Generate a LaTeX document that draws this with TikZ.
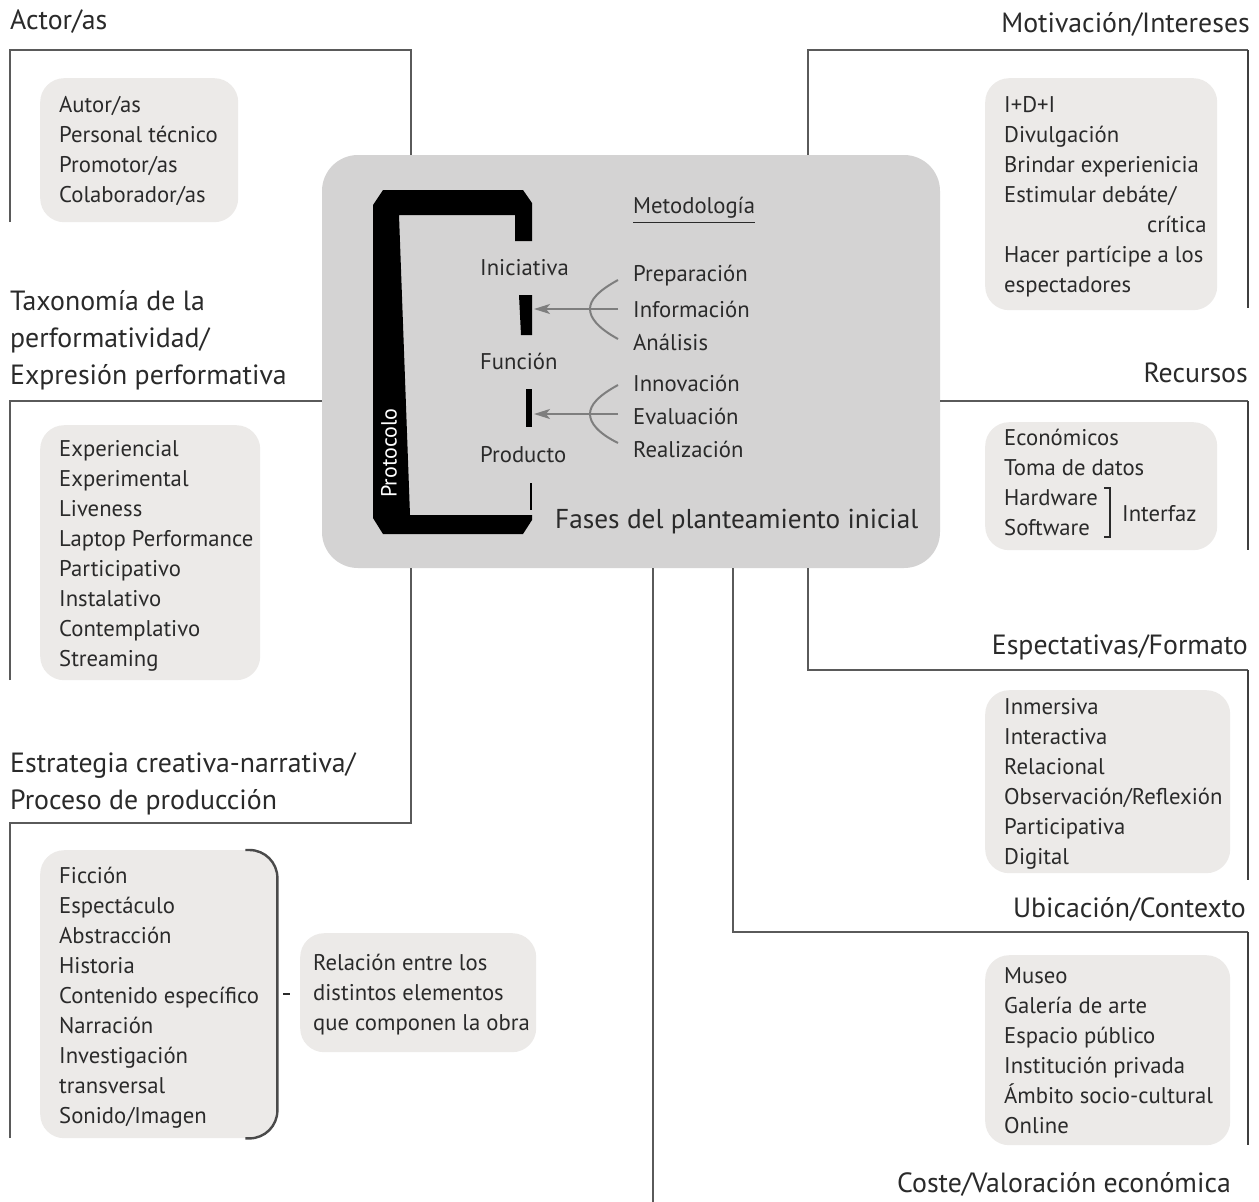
\documentclass[tikz,border=0pt]{standalone}
\usepackage{fontspec}
\setmainfont{PT Sans}
\usetikzlibrary{arrows.meta}
\definecolor{ink}{HTML}{2A2A2A}
\definecolor{rule}{HTML}{5A5A5A}
\definecolor{panel}{HTML}{ECEAE8}
\definecolor{corefill}{HTML}{D4D3D3}
\definecolor{pointer}{HTML}{7E7E7E}
\begin{document}
\begin{tikzpicture}[x=1pt,y=-1pt,
  frame/.style={draw=rule,line width=1.6pt},
  edge/.style={draw=rule!70!black,line width=2.6pt},
  panelbox/.style={fill=panel,rounded corners=24pt,inner sep=0pt,anchor=north west},
  itemtext/.style={text=ink,font=\fontsize{22.7}{30}\selectfont,align=left,inner sep=0pt,anchor=north west},
  heading/.style={text=ink,font=\fontsize{27.8}{37}\selectfont,align=left,inner sep=0pt},
  phase/.style={text=ink,font=\fontsize{22.7}{30}\selectfont,inner sep=0pt,anchor=west},
  pointerline/.style={draw=pointer,line width=2pt},
  pointerarrow/.style={pointerline,-{Stealth[length=16pt,width=10pt,inset=4pt]}},
]
\useasboundingbox[fill=white] (0,0) rectangle (1259,1202);

% central panel
\node[fill=corefill,rounded corners=36pt,minimum width=618pt,minimum height=413pt,inner sep=0pt] (core) at (631,361.5) {};

% frame corners
\coordinate (actTR) at (411,50);
\coordinate (motTL) at (808,50);
\coordinate (taxTL) at (10,401);
\coordinate (recTR) at (1248,401);
\coordinate (estTR) at (411,823);
\coordinate (espBL) at (808,670);
\coordinate (ubiBL) at (733,932);
\coordinate (costEnd) at (653,1202);

% frames
\draw[frame] (10,222) -- (10,50) -- (actTR) -- (actTR |- core.north);
\draw[frame] (motTL |- core.north) -- (motTL) -- (1248,50);
\draw[edge] (1248,50) -- (1248,308);
\draw[frame] (10,680) -- (taxTL) -- (taxTL -| core.west);
\draw[frame] (recTR -| core.east) -- (recTR);
\draw[edge] (1248,401) -- (1248,550);
\draw[frame] (10,1138) -- (10,823) -- (estTR) -- (estTR |- core.south);
\draw[frame] (espBL |- core.south) -- (espBL) -- (1248,670);
\draw[edge] (1248,670) -- (1248,880);
\draw[frame] (ubiBL |- core.south) -- (ubiBL) -- (1248,932);
\draw[edge] (1248,932) -- (1248,1145);
\draw[frame] (costEnd |- core.south) -- (costEnd);

% headings
\node[heading,anchor=west] (hAct) at (10,22) {Actor/as};
\node[heading,anchor=east] (hMot) at (1250,24) {Motivación/Intereses};
\node[heading,anchor=north west] (hTax) at (10,290) {Taxonomía de la\\performatividad/\\Expresión performativa};
\node[heading,anchor=east] (hRec) at (1248,373) {Recursos};
\node[heading,anchor=east] (hEsp) at (1248,647) {Espectativas/Formato};
\node[heading,anchor=north west] (hEst) at (10,752) {Estrategia creativa-narrativa/\\Proceso de producción};
\node[heading,anchor=east] (hUbi) at (1246,909) {Ubicación/Contexto};
\node[heading,anchor=east] (hCos) at (1231,1184) {Coste/Valoración económica};

% item panels
\node[panelbox,minimum width=198pt,minimum height=144pt] (pAct) at (40,78) {};
\node[panelbox,minimum width=232pt,minimum height=232pt] (pMot) at (985,78) {};
\node[panelbox,minimum width=220pt,minimum height=255pt] (pTax) at (40,425) {};
\node[panelbox,minimum width=237pt,minimum height=288pt] (pEst) at (40,850) {};
\node[panelbox,minimum width=236pt,minimum height=119pt] (pRel) at (300,933) {};
\node[panelbox,minimum width=232pt,minimum height=128pt] (pRec) at (985,422) {};
\node[panelbox,minimum width=245pt,minimum height=183pt] (pEsp) at (985,690) {};
\node[panelbox,minimum width=245pt,minimum height=190pt] (pUbi) at (985,955) {};

% item texts
\node[itemtext] (tAct) at (59,96) {Autor/as\\Personal técnico\\Promotor/as\\Colaborador/as};
\node[itemtext] (tMot) at (1004,96) {I+D+I\\Divulgación\\Brindar experienicia\\Estimular debáte/\\\hspace*{143pt}crítica\\Hacer partícipe a los\\espectadores};
\node[itemtext] (tTax) at (59,440) {Experiencial\\Experimental\\Liveness\\Laptop Performance\\Participativo\\Instalativo\\Contemplativo\\Streaming};
\node[itemtext] (tEst) at (59,867) {Ficción\\Espectáculo\\Abstracción\\Historia\\Contenido específico\\Narración\\Investigación\\transversal\\Sonido/Imagen};
\node[itemtext] (tRel) at (313,954) {Relación entre los\\distintos elementos\\que componen la obra};
\node[itemtext] (tRec) at (1004,429) {Económicos\\Toma de datos\\Hardware\\Software};
\node[itemtext] (tEsp) at (1004,698) {Inmersiva\\Interactiva\\Relacional\\Observación/Reflexión\\Participativa\\Digital};
\node[itemtext] (tUbi) at (1004,967) {Museo\\Galería de arte\\Espacio público\\Institución privada\\Ámbito socio-cultural\\Online};

% bracket grouping hardware and software
\node[phase] (iface) at (1122,514) {Interfaz};
\draw[draw=ink,line width=1.4pt] (1104,488) -- (1110,488) -- (1110,537) -- (1104,537);

% bracket closing the creative strategy list
\draw[draw=ink!85,line width=2.4pt,rounded corners=28pt]
  ([xshift=-32pt]pEst.north east) -- (pEst.north east) -- (pEst.south east) -- ([xshift=-32pt]pEst.south east);
\draw[draw=ink,line width=1.6pt] ([xshift=6pt]pEst.east) -- ([xshift=13pt]pEst.east);

% protocol frame
\fill[black] (383,190) -- (523,190) -- (532,203) -- (532,241) -- (515,241) -- (515,215) -- (399,215)
  -- (410,515) -- (532,515) -- (532,520) -- (523,534) -- (383,534) -- (373,518) -- (373,205) -- cycle;
\node[text=white,font=\fontsize{22}{26}\selectfont,rotate=90,inner sep=0pt] (proto) at (389,453) {Protocolo};
\fill[black] (519,295) -- (532,295) -- (532,335) -- (521,335) -- cycle;
\coordinate (bar1) at (532,309);
\fill[black] (526,389) rectangle (532,427);
\coordinate (bar2) at (532,414);
\draw[draw=black,line width=1.5pt] (531,483) -- (531,510);

% phases
\node[phase] (ini) at (480,268) {Iniciativa};
\node[phase] (fun) at (480,361) {Función};
\node[phase] (pro) at (480,455) {Producto};

% methodology
\node[phase,inner ysep=4pt] (met) at (633,208) {Metodología};
\draw[draw=ink,line width=1.4pt] (met.south west) -- (met.south east);
\node[phase] (m1) at (633,276) {Preparación};
\node[phase] (m2) at (633,309) {Información};
\node[phase] (m3) at (633,342) {Análisis};
\node[phase] (m4) at (633,383) {Innovación};
\node[phase] (m5) at (633,416) {Evaluación};
\node[phase] (m6) at (633,449) {Realización};

% forks and arrows
\coordinate (fork1) at (590,309);
\coordinate (stem1) at (618,309);
\coordinate (fork2) at (590,414);
\coordinate (stem2) at (618,414);
\draw[pointerline] (618,280) .. controls (598,291) and (590,300) .. (fork1) .. controls (590,318) and (598,328) .. (618,339);
\draw[pointerline] (618,385) .. controls (598,396) and (590,405) .. (fork2) .. controls (590,423) and (598,433) .. (618,443);
\draw[pointerarrow,shorten >=2pt] (stem1) -- (bar1);
\draw[pointerarrow,shorten >=2pt] (stem2) -- (bar2);

\node[text=ink,font=\fontsize{27.3}{37}\selectfont,inner sep=0pt,anchor=west] (fases) at (555,522) {Fases del planteamiento inicial};
\end{tikzpicture}
\end{document}
